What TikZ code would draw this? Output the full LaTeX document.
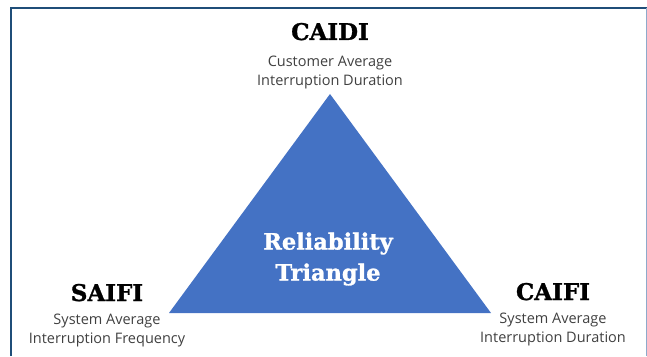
\documentclass[tikz,border=0pt]{standalone}
\usepackage{fontspec}
\setmainfont{Open Sans}
\newfontfamily\slabfont[BoldFeatures={FakeBold=1.2}]{DejaVu Serif}
\usetikzlibrary{positioning}
\definecolor{triblue}{HTML}{4472C4}
\definecolor{framedark}{HTML}{1F4E79}
\definecolor{framelight}{HTML}{8EAACB}

\begin{document}
\begin{tikzpicture}[x=1pt, y=1pt, node distance=12pt,
  idx/.style={font=\slabfont\bfseries\fontsize{23}{25}\selectfont, inner sep=0pt, anchor=base},
  desc/.style={align=center, font=\fontsize{14.5}{19}\selectfont, text=black!75, inner sep=0pt}]
\useasboundingbox (0,0) rectangle (647,356);
% frame
\draw[framedark, line width=2.2pt] (11,0) -- (11,348) -- (647,348);
\draw[framelight, line width=1pt] (646,0) -- (646,348);
% triangle
\coordinate (top) at (330,262);
\coordinate (bl) at (169,43);
\coordinate (br) at (491,43);
\fill[triblue] (top) -- (bl) -- (br) -- cycle;
\node[align=center, text=white, font=\slabfont\bfseries\fontsize{22.5}{31}\selectfont] (rt) at (328,97) {Reliability\\Triangle};
% corner labels
\node[idx] (caidi) at (330,316) {CAIDI};
\node[desc, below=15pt of caidi] (caididesc) {Customer Average\\Interruption Duration};
\node[idx] (saifi) at (107,55) {SAIFI};
\node[desc, below=of saifi] (saifidesc) {System Average\\Interruption Frequency};
\node[idx] (caifi) at (553,56) {CAIFI};
\node[desc, below=of caifi] (caifidesc) {System Average\\Interruption Duration};
\end{tikzpicture}
\end{document}
